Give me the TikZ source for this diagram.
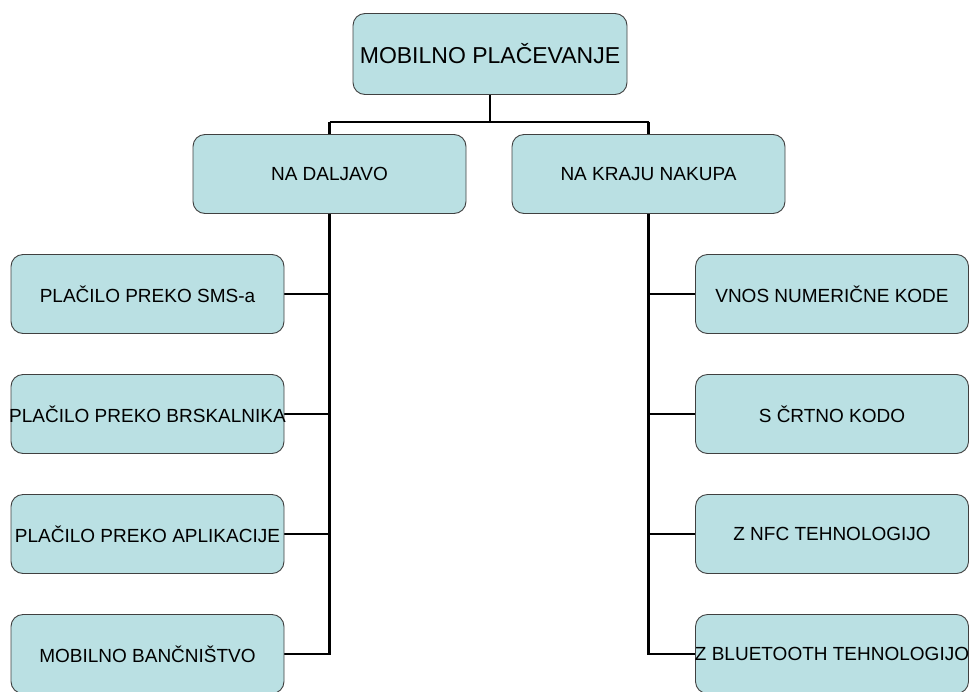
\documentclass[tikz,border=0pt]{standalone}
\usepackage{fontspec}
\setmainfont{Liberation Sans}
\usetikzlibrary{backgrounds}
\begin{document}
\begin{tikzpicture}[x=1pt,y=-1pt,
  box/.style={draw=black!75, line width=0.9pt, fill=boxfill, rounded corners=12pt,
    inner sep=0pt, minimum width=273pt, minimum height=79pt, font=\fontsize{19}{22}\selectfont},
  link/.style={line width=2.2pt, black}]
\definecolor{boxfill}{RGB}{186,224,227}
\useasboundingbox (0,0) rectangle (969,691);
\clip (0,0) rectangle (969,691);

% root
\node[box, minimum width=274pt, minimum height=81pt, font=\fontsize{23}{26}\selectfont] (root) at (490,54) {MOBILNO PLAČEVANJE};

% second level
\node[box] (dal) at (329.5,174) {NA DALJAVO};
\node[box] (kra) at (648.5,174) {NA KRAJU NAKUPA};

% left branch
\node[box] (l1) at (147.5,294) {\makebox[0pt]{PLAČILO PREKO SMS-a}};
\node[box] (l2) at (147.5,414) {\makebox[0pt]{PLAČILO PREKO BRSKALNIKA}};
\node[box] (l3) at (147.5,534) {\makebox[0pt]{PLAČILO PREKO APLIKACIJE}};
\node[box] (l4) at (147.5,654) {\makebox[0pt]{MOBILNO BANČNIŠTVO}};

% right branch
\node[box] (r1) at (832,294) {\makebox[0pt]{VNOS NUMERIČNE KODE}};
\node[box] (r2) at (832,414) {\makebox[0pt]{S ČRTNO KODO}};
\node[box] (r3) at (832,534) {\makebox[0pt]{Z NFC TEHNOLOGIJO}};
\node[box] (r4) at (832,654) {\makebox[0pt]{Z BLUETOOTH TEHNOLOGIJO}};

% connectors, kept behind the boxes and their text
\begin{scope}[on background layer]
\coordinate (j) at (root.south |- 0,122);
\draw[link] (root.south) -- (j);
\draw[link] (dal.north |- j) -- (kra.north |- j);
\draw[link] (dal.north |- j) -- (dal.north);
\draw[link] (kra.north |- j) -- (kra.north);

\draw[link] (dal.south) |- (l4.east);
\foreach \n in {l1,l2,l3}
  \draw[link] (\n.east) -- (\n.east -| dal.south);

\draw[link] (kra.south) |- (r4.west);
\foreach \n in {r1,r2,r3}
  \draw[link] (\n.west) -- (\n.west -| kra.south);
\end{scope}
\end{tikzpicture}
\end{document}
